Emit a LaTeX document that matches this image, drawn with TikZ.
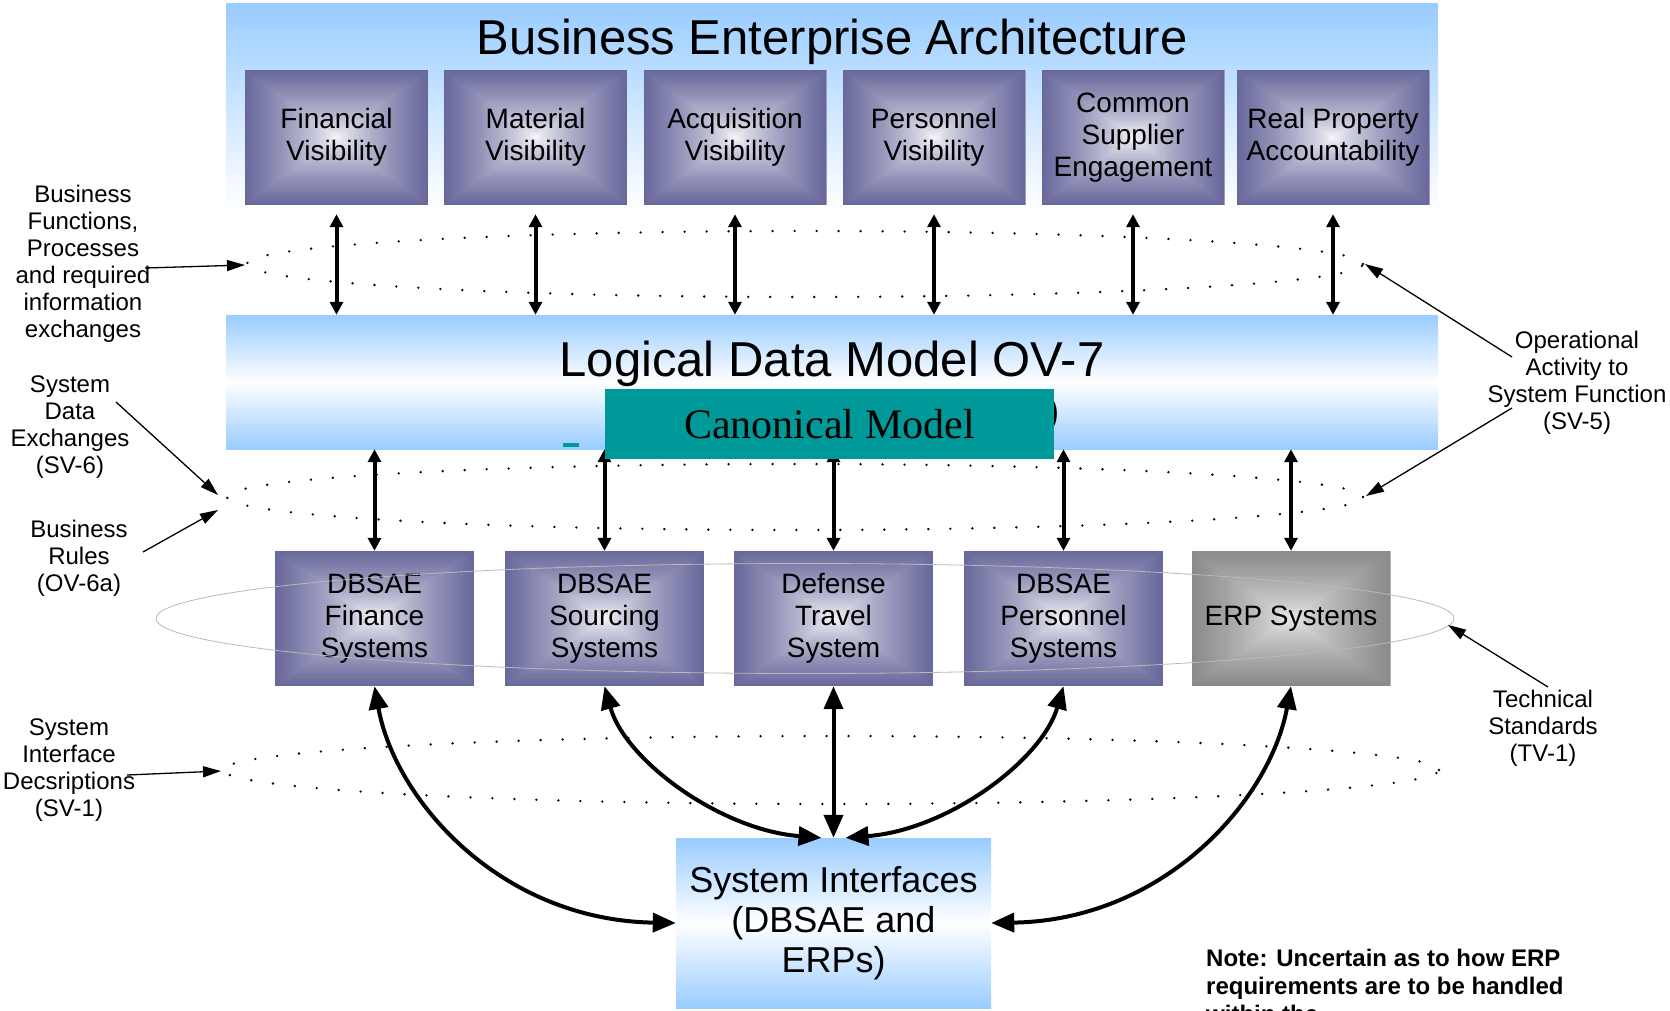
\documentclass[tikz,border=0pt]{standalone}
\usepackage{fontspec}
\setmainfont{Liberation Sans}
\newfontfamily\canonfont{Liberation Serif}
\usetikzlibrary{arrows.meta,calc}

\definecolor{bandblue}{RGB}{153,204,255}
\definecolor{slate}{RGB}{104,104,156}
\definecolor{erpgrey}{RGB}{138,138,138}
\definecolor{erplight}{RGB}{240,240,240}
\definecolor{canonteal}{RGB}{0,153,153}
\newcommand\setsz[2]{\fontsize{#1}{#2}\selectfont}

\tikzset{
  % rectangular "bevel" gradient: concentric rectangles from edge colour to centre colour
  bevel/.style 2 args={fill=white, path picture={
    \foreach \k in {0,...,39}{
      \pgfmathsetmacro\bvs{1-\k/40}
      \pgfmathsetmacro\bvp{100*(\bvs)^0.7}
      \fill[#1!\bvp!#2]
        ($(path picture bounding box.center)!\bvs!(path picture bounding box.south west)$)
        rectangle
        ($(path picture bounding box.center)!\bvs!(path picture bounding box.north east)$);
    }}},
  topbox/.style={bevel={slate}{white}, minimum width=183pt, minimum height=135pt,
    inner sep=0, align=center, font=\setsz{28}{32}},
  sysbox/.style={bevel={slate}{white}, minimum width=199pt, minimum height=135pt,
    inner sep=0, align=center, font=\setsz{28}{32}},
  band/.style={minimum width=1212pt, inner sep=0},
  link/.style={line width=4pt, {Triangle[length=13pt,width=13pt]}-{Triangle[length=13pt,width=13pt]}},
  iface/.style={line width=4pt, {Triangle[length=23pt,width=19pt]}-{Triangle[length=23pt,width=19pt]}},
  dotring/.style={line width=2.6pt, line cap=round, dash pattern=on 0pt off 22pt},
  label/.style={align=center, font=\setsz{24}{27}, inner sep=0},
  pointer/.style={line width=1.3pt, -{Triangle[length=18pt,width=11pt]}},
}

\begin{document}
\begin{tikzpicture}[x=1pt,y=-1pt]
\useasboundingbox (0,0) rectangle (1670,1010);
\fill[white] (0,0) rectangle (1670,1010);
\clip (0,0) rectangle (1670,1010);

% architecture bands
\node[band, minimum height=205pt, top color=bandblue, bottom color=white] (bea) at (832,105.5) {};
\node[font=\setsz{49}{53}] (beaTitle) at (832,42) {Business Enterprise Architecture};

\node[band, minimum height=134pt, top color=bandblue, bottom color=bandblue, middle color=white] (ldm) at (832,382) {};
\node[font=\setsz{49}{53}] (ldmTitle) at (832,364) {Logical Data Model OV-7};
\node[font=\setsz{40}{44}, inner sep=0] (ldmParen) at (1053,414) {)};
\fill[canonteal] (563,443) rectangle (579,447);

% dotted view rings
\draw[dotring] (805,264) ellipse [x radius=558pt, y radius=33pt];
\draw[dotring] (795,497) ellipse [x radius=568pt, y radius=33pt];
\draw[dotring] (831,770) ellipse [x radius=608pt, y radius=34pt];

% business areas
\node[topbox] (fin) at (336.5,137.5) {Financial\\Visibility};
\node[topbox] (mat) at (535.5,137.5) {Material\\Visibility};
\node[topbox] (acq) at (735,137.5) {Acquisition\\Visibility};
\node[topbox] (per) at (934,137.5) {Personnel\\Visibility};
\node[topbox] (css) at (1133,137.5) {Common\\Supplier\\Engagement};
\node[topbox, minimum width=193pt] (rpa) at (1333,137.5) {Real Property\\Accountability};

% systems
\node[sysbox] (dfs) at (374.5,618.5) {DBSAE\\Finance\\Systems};
\node[sysbox] (dss) at (604.5,618.5) {DBSAE\\Sourcing\\Systems};
\node[sysbox] (dts) at (833.5,618.5) {Defense\\Travel\\System};
\node[sysbox] (dps) at (1063.5,618.5) {DBSAE\\Personnel\\Systems};
\node[sysbox, bevel={erpgrey}{erplight}] (erp) at (1291,618.5) {ERP Systems};

% technical standards ring
\draw[gray!55, line width=0.8pt] (805,618.5) ellipse [x radius=649pt, y radius=55pt];

% system interfaces
\node[band, minimum width=315pt, minimum height=170pt, top color=bandblue, bottom color=bandblue,
  middle color=white, align=center, font=\setsz{36}{40}] (si) at (833.5,923)
  {System Interfaces\\(DBSAE and\\ERPs)};

% vertical links
\foreach \b in {fin,mat,acq,per,css,rpa}
  \draw[link] ([yshift=-9pt]\b.south) -- (\b.south |- ldm.north);
\foreach \b in {dfs,dss,dts,dps,erp}
  \draw[link] (\b.north |- ldm.south) -- (\b.north);

% interface links
\draw[iface] (dfs.south) .. controls (395,800) and (500,920) .. (si.west);
\draw[iface] (dss.south) .. controls (625,760) and (720,830) .. ([xshift=-12pt]si.north);
\draw[iface] (dts.south) -- (dts.south |- si.north);
\draw[iface] (dps.south) .. controls (1042,760) and (948,830) .. ([xshift=12pt]si.north);
\draw[iface] (erp.south) .. controls (1270,800) and (1165,920) .. (si.east);

% canonical model overlay
\node[fill=canonteal, minimum width=449pt, minimum height=70pt, inner sep=0,
  font=\canonfont\setsz{42}{46}] (canon) at (829.5,424) {Canonical Model};

% side annotations
\node[label] (bfLbl) at (83,263.5) {Business\\Functions,\\Processes\\and required\\information\\exchanges};
\node[label] (sdeLbl) at (70,427.5) {System\\Data\\Exchanges\\(SV-6)};
\node[label] (brLbl) at (79,558.5) {Business\\Rules\\(OV-6a)};
\node[label] (sidLbl) at (69,770.5) {System\\Interface\\Decsriptions\\(SV-1)};
\node[label] (oaLbl) at (1577,382.5) {Operational\\Activity to\\System Function\\(SV-5)};
\node[label] (tsLbl) at (1543,728) {Technical\\Standards\\(TV-1)};

\coordinate (bfFrom) at (145,268);   \coordinate (bfTo) at (245,265);
\coordinate (sdeFrom) at (116,402);  \coordinate (sdeTo) at (218,495);
\coordinate (brFrom) at (143,552);   \coordinate (brTo) at (218,510);
\coordinate (sidFrom) at (127,775);  \coordinate (sidTo) at (221,771);
\coordinate (oaFromA) at (1512,357); \coordinate (oaToA) at (1365,264);
\coordinate (oaFromB) at (1512,408); \coordinate (oaToB) at (1366,496);
\coordinate (tsFrom) at (1548,687);  \coordinate (tsTo) at (1448,625);

\draw[pointer] (bfFrom) -- (bfTo);
\draw[pointer] (sdeFrom) -- (sdeTo);
\draw[pointer] (brFrom) -- (brTo);
\draw[pointer] (sidFrom) -- (sidTo);
\draw[pointer] (oaFromA) -- (oaToA);
\draw[pointer] (oaFromB) -- (oaToB);
\draw[pointer] (tsFrom) -- (tsTo);

% note
\node[anchor=north west, align=left, inner sep=0, font=\bfseries\setsz{24}{28}] (note) at (1206,949)
  {Note: Uncertain as to how ERP\\requirements are to be handled\\within the};
\end{tikzpicture}
\end{document}
